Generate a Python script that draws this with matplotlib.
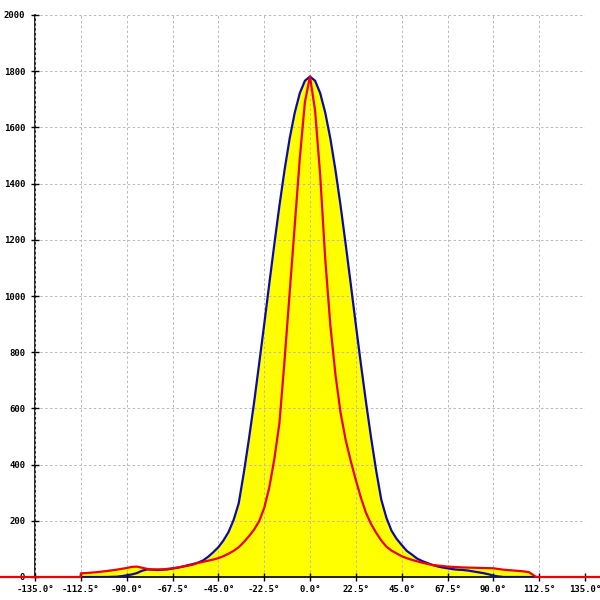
import matplotlib
matplotlib.use("Agg")
import matplotlib.pyplot as plt
import numpy as np

# Blue curve (filled yellow) - angle in degrees, value
blue_angles = [-112.5, -100, -95, -92.5, -90, -87.5, -85, -82.5, -80, -77.5, -75, -72.5,
               -70, -67.5, -65, -62.5, -60, -57.5, -55, -52.5, -50, -47.5, -45, -42.5,
               -40, -37.5, -35, -32.5, -30, -27.5, -25, -22.5, -20, -17.5, -15, -12.5,
               -10, -7.5, -5, -2.5, 0, 2.5, 5, 7.5, 10, 12.5, 15, 17.5, 20, 22.5, 25,
               27.5, 30, 32.5, 35, 37.5, 40, 42.5, 45, 47.5, 50, 52.5, 55, 57.5, 60,
               62.5, 65, 67.5, 70, 72.5, 75, 77.5, 80, 82.5, 85, 87.5, 90, 92.5, 95,
               112.5]
blue_values = [0, 0, 1, 3, 6, 9, 14, 22, 27, 26, 25, 26,
               27, 30, 33, 37, 42, 46, 51, 59, 72, 88, 106, 130,
               160, 203, 262, 370, 490, 618, 757, 898, 1043, 1185, 1322, 1448,
               1560, 1652, 1722, 1766, 1781, 1766, 1722, 1652, 1560, 1448, 1322, 1185, 1043, 898, 757,
               622, 495, 378, 275, 211, 165, 136, 114, 93, 80, 66, 57, 50, 43,
               38, 34, 31, 28, 26, 25, 23, 20, 17, 14, 10, 5, 2, 0,
               0]

# Red curve
red_angles = [-180, -112.6, -112.5, -110, -105, -100, -95, -90, -87.5, -85, -82.5, -80,
              -77.5, -75, -72.5, -70, -67.5, -65, -62.5, -60, -57.5, -55, -52.5, -50,
              -47.5, -45, -42.5, -40, -37.5, -35, -32.5, -30, -27.5, -25, -22.5, -20,
              -17.5, -15, -12.5, -10, -7.5, -5, -2.5, 0, 2.5, 5, 7.5, 10, 12.5, 15,
              17.5, 20, 22.5, 25, 27.5, 30, 32.5, 35, 37.5, 40, 42.5, 45, 47.5, 50,
              52.5, 55, 57.5, 60, 62.5, 65, 67.5, 70, 75, 80, 85, 90, 95, 100, 105,
              107.5, 109, 111, 180]
red_values = [0, 0, 13, 14, 17, 21, 26, 32, 36, 37, 33, 29,
              27, 27, 27, 29, 31, 34, 37, 40, 44, 50, 54, 58,
              62, 67, 74, 83, 93, 106, 124, 145, 168, 198, 245, 318,
              420, 548, 770, 1010, 1250, 1490, 1690, 1781, 1660, 1430, 1130, 895, 720, 585,
              488, 413, 345, 282, 228, 188, 157, 130, 108, 94, 84, 74, 67, 61,
              56, 51, 47, 43, 41, 39, 37, 36, 34, 33, 32, 31, 26, 23, 20,
              17, 10, 0, 0]

x_ticks = [-135, -112.5, -90, -67.5, -45, -22.5, 0, 22.5, 45, 67.5, 90, 112.5, 135]
y_ticks = [0, 200, 400, 600, 800, 1000, 1200, 1400, 1600, 1800, 2000]

fig = plt.figure(figsize=(6, 6), dpi=100)
ax = fig.add_axes([35 / 600, 23 / 600, 550 / 600, 562 / 600])

ax.fill_between(blue_angles, 0, blue_values, color="#ffff00", linewidth=0, zorder=1)
ax.fill_between(red_angles, 0, red_values, color="#ffff00", linewidth=0, zorder=1)
ax.plot(blue_angles, blue_values, color="#0a0aa8", linewidth=1.6, zorder=3)
ax.plot(red_angles, red_values, color="#ee0000", linewidth=1.6, zorder=4, clip_on=False)

ax.set_xlim(-135, 135)
ax.set_ylim(0, 2000)
ax.set_xticks(x_ticks)
ax.set_xticklabels([f"{t:.1f}\u00b0" for t in x_ticks])
ax.set_yticks(y_ticks)
ax.set_yticklabels([str(t) for t in y_ticks])

ax.set_axisbelow(False)
ax.grid(True, color="#b8b8b8", linewidth=0.7, linestyle=(0, (2.5, 2.5)), zorder=2)

for s in ["top", "right"]:
    ax.spines[s].set_visible(False)
ax.spines["left"].set_linewidth(1.2)
ax.spines["bottom"].set_linewidth(1.2)
ax.tick_params(axis="both", direction="inout", length=6, width=1.0, color="black")
ax.tick_params(axis="y", pad=4)
ax.tick_params(axis="x", pad=3)
for lab in ax.get_xticklabels() + ax.get_yticklabels():
    lab.set_fontfamily("DejaVu Sans Mono")
    lab.set_fontsize(6.5)
    lab.set_fontweight("bold")

fig.savefig("out.png", dpi=100, facecolor="white")
